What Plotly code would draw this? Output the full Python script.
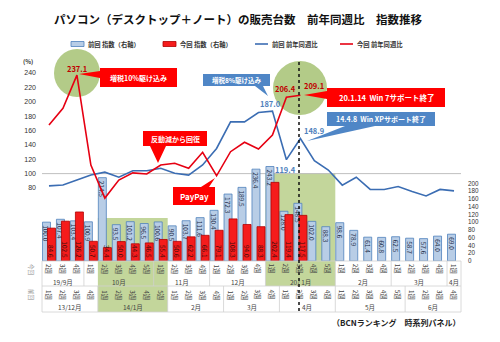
import plotly.graph_objects as go

FONT = "Noto Sans CJK JP"

# ---------------- data ----------------
weeks = list(range(30))
prev_index = [100.0, 107.4, 103.4, 100.9, 214.5, 93.5, 101.2, 96.5, 100.6, 90.5,
              103.7, 111.6, 130.4, 172.3, 189.5, 236.4, 243.2, 128.0, 148.5, 102.0,
              88.3, 98.6, 78.9, 61.4, 60.8, 62.5, 58.7, 57.6, 64.0, 69.0]
cur_index = [84.6, 102.5, 126.2, 50.7, 34.4, 50.0, 44.3, 46.5, 55.4, 50.6,
             62.2, 66.1, 79.1, 108.3, 94.0, 88.3, 202.4, 119.4, 117.5]
prev_yoy = [83.0, 84.2, 91.0, 98.0, 102.0, 95.0, 104.0, 104.0, 107.5, 100.5,
            98.0, 112.0, 135.0, 172.0, 172.0, 185.0, 187.0, 119.4, 148.9, 118.0,
            105.0, 84.0, 95.0, 78.0, 78.0, 82.0, 75.0, 69.0, 78.0, 76.0]
cur_yoy = [167.7, 191.0, 237.1, 112.0, 66.0, 91.0, 101.0, 99.5, 112.0, 114.5,
           107.5, 129.7, 97.0, 130.5, 143.6, 134.3, 153.7, 206.4, 209.1]

upper_weeks = ["2週", "3週", "4週", "1週", "2週", "3週", "4週", "5週", "1週", "2週",
               "3週", "4週", "1週", "2週", "3週", "4週", "1週", "2週", "3週", "4週",
               "5週", "1週", "2週", "3週", "4週", "1週", "2週", "3週", "4週", "1週"]
lower_weeks = ["1週", "2週", "3週", "4週", "1週", "2週", "3週", "4週", "5週", "1週",
               "2週", "3週", "4週", "1週", "2週", "3週", "4週", "1週", "2週", "3週",
               "4週", "1週", "2週", "3週", "4週", "5週", "1週", "2週", "3週", "4週"]
upper_months = [("19/9月", 0, 2), ("10月", 3, 7), ("11月", 8, 11), ("12月", 12, 15),
                ("20/ 1月", 16, 20), ("2月", 21, 24), ("3月", 25, 28), ("4月", 29, 29)]
lower_months = [("13/12月", 0, 3), ("14/1月", 4, 8), ("2月", 9, 12), ("3月", 13, 16),
                ("4月", 17, 20), ("5月", 21, 25), ("6月", 26, 29)]

# ---------------- geometry helpers ----------------
W, H = 500, 342
PL, PR, PT, PB = 42, 461, 58, 261
PW, PH = PR - PL, PB - PT


def px(x):
    return (x - PL) / PW


def py(y):
    return (PB - y) / PH


def cx(i):  # paper x of a category centre
    return (i + 0.5) / 30


def path(pts):
    return "M " + " L ".join(f"{px(a):.5f},{py(b):.5f}" for a, b in pts) + " Z"


RED = "#e60012"
BLUE_LINE = "#3b6db3"
BLUE_BOX = "#4f86c6"
GREEN_BOX = "#c3d69b"
GREEN_CIRCLE = "#b3cb88"

fig = go.Figure()

# bars (right axis)
fig.add_trace(go.Bar(
    x=weeks, y=prev_index, name="前回 指数（右軸）", yaxis="y",
    offset=-0.466, width=0.573,
    marker=dict(color="#b8cde6", line=dict(color="#4f81bd", width=0.8)),
    text=[f"{v:.1f}" for v in prev_index], textposition="inside",
    insidetextanchor="end", textangle=90,
    textfont=dict(size=6.5, color="#1f2d4a", family=FONT),
))
fig.add_trace(go.Bar(
    x=weeks[:len(cur_index)], y=cur_index, name="今回 指数（右軸）", yaxis="y",
    offset=-0.107, width=0.573,
    marker=dict(color="#f51c1c", line=dict(color="#b00000", width=0.8)),
    text=[f"{v:.1f}" for v in cur_index], textposition="inside",
    insidetextanchor="start", textangle=90,
    textfont=dict(size=6.5, color="#3a0a0a", family=FONT),
))
# lines (left axis)
fig.add_trace(go.Scatter(
    x=weeks, y=prev_yoy, name="前回 前年同週比", yaxis="y2", mode="lines",
    line=dict(color=BLUE_LINE, width=1.6),
))
fig.add_trace(go.Scatter(
    x=weeks[:len(cur_yoy)], y=cur_yoy, name="今回 前年同週比", yaxis="y2", mode="lines",
    line=dict(color=RED, width=1.6),
))

shapes = []
ann = []


def text(x, y, t, size=7, color="#333", bold=False, angle=0, xa="center", ya="middle",
         xref="paper", yref="paper", yshift=0, xshift=0):
    ann.append(dict(x=x, y=y, xref=xref, yref=yref, text=f"<b>{t}</b>" if bold else t,
                    showarrow=False, textangle=angle, xanchor=xa, yanchor=ya,
                    yshift=yshift, xshift=xshift,
                    font=dict(size=size, color=color, family=FONT)))


# green highlight areas (below)
shapes.append(dict(type="rect", xref="paper", yref="paper", layer="below",
                   x0=4 / 30, x1=9 / 30, y0=py(312), y1=py(218),
                   fillcolor=GREEN_BOX, line=dict(width=0)))
shapes.append(dict(type="rect", xref="paper", yref="paper", layer="below",
                   x0=16 / 30, x1=21 / 30, y0=py(286), y1=py(173),
                   fillcolor=GREEN_BOX, line=dict(width=0)))
shapes.append(dict(type="circle", xref="paper", yref="paper", layer="below",
                   x0=px(54), x1=px(100), y0=py(97), y1=py(49),
                   fillcolor=GREEN_CIRCLE, line=dict(width=0)))
shapes.append(dict(type="circle", xref="paper", yref="paper", layer="below",
                   x0=px(273), x1=px(327), y0=py(115), y1=py(61),
                   fillcolor=GREEN_CIRCLE, line=dict(width=0)))
# 100% reference line
shapes.append(dict(type="line", xref="paper", yref="y2", layer="below",
                   x0=0, x1=1, y0=100, y1=100, line=dict(color="#bfbfbf", width=1)))

# table lines
GRID = "#d0d0d0"
for yy in (261, 286, 312):
    shapes.append(dict(type="line", xref="paper", yref="paper", x0=0, x1=1,
                       y0=py(yy), y1=py(yy), line=dict(color=GRID, width=0.8)))
for b in [-0.5, 29.5]:
    shapes.append(dict(type="line", xref="paper", yref="paper", x0=cx(b), x1=cx(b),
                       y0=py(261), y1=py(312), line=dict(color=GRID, width=0.8)))
for _, a, b in upper_months[:-1]:
    shapes.append(dict(type="line", xref="paper", yref="paper", x0=cx(b + 0.5), x1=cx(b + 0.5),
                       y0=py(261), y1=py(286), line=dict(color=GRID, width=0.8)))
for _, a, b in lower_months[:-1]:
    shapes.append(dict(type="line", xref="paper", yref="paper", x0=cx(b + 0.5), x1=cx(b + 0.5),
                       y0=py(286), y1=py(312), line=dict(color=GRID, width=0.8)))

# week / month labels
for i in weeks:
    text(cx(i), py(269), upper_weeks[i], size=6.3, color="#444", angle=90)
    text(cx(i), py(295), lower_weeks[i], size=6.3, color="#444", angle=90)
for t, a, b in upper_months:
    text(cx((a + b) / 2), py(281.5), t, size=6.5, color="#444")
for t, a, b in lower_months:
    text(cx((a + b) / 2), py(307), t, size=6.5, color="#444")
text(px(31), py(270), "今回", size=5.5, color="#888", angle=90)
text(px(31), py(295), "前回", size=5.5, color="#888", angle=90)

# dotted marker line
shapes.append(dict(type="line", xref="paper", yref="paper", x0=px(299), x1=px(299),
                   y0=py(311), y1=py(60), line=dict(color="#111", width=1.5, dash="dot")))

# callouts
shapes.append(dict(type="path", xref="paper", yref="paper", fillcolor="#ff0000", line=dict(width=0),
                   path=path([(100, 68), (177, 68), (177, 87), (100, 87), (100, 78), (79, 74), (100, 71)])))
text(px(138.5), py(77.5), "増税10%駆け込み", size=7, color="white", bold=True)

shapes.append(dict(type="path", xref="paper", yref="paper", fillcolor="#ff0000", line=dict(width=0),
                   path=path([(143, 131), (207, 131), (207, 146), (166, 146), (158, 163), (150, 146), (143, 146)])))
text(px(175), py(138.5), "反動減から回復", size=7, color="white", bold=True)

shapes.append(dict(type="path", xref="paper", yref="paper", fillcolor="#ff0000", line=dict(width=0),
                   path=path([(173, 187), (201, 187), (215, 178), (209, 187), (215, 187), (215, 205), (173, 205)])))
text(px(194), py(196), "PayPay", size=8, color="white", bold=True)

shapes.append(dict(type="path", xref="paper", yref="paper", fillcolor=BLUE_BOX, line=dict(width=0),
                   path=path([(203, 74), (270, 74), (270, 86), (263, 86), (268, 96), (255, 86), (203, 86)])))
text(px(236.5), py(80), "増税8%駆け込み", size=6.5, color="white", bold=True)

shapes.append(dict(type="path", xref="paper", yref="paper", fillcolor="#ff0000", line=dict(width=0),
                   path=path([(327, 88), (445, 88), (445, 107), (327, 107), (327, 99), (304, 95), (327, 91)])))
text(px(386), py(97.5), "20.1.14  Win 7サポート終了", size=7.5, color="white", bold=True)

shapes.append(dict(type="path", xref="paper", yref="paper", fillcolor=BLUE_BOX, line=dict(width=0),
                   path=path([(327, 112), (435, 112), (435, 126), (375, 126), (307, 141), (345, 126), (327, 126)])))
text(px(381), py(119), "14.4.8  Win XPサポート終了", size=7, color="white", bold=True)

# line value labels
text(2, cur_yoy[2], f"{cur_yoy[2]:.1f}", size=7.5, color="#c00000", bold=True,
     xref="x", yref="y2", yshift=7)
text(17, cur_yoy[17], f"{cur_yoy[17]:.1f}", size=7.5, color="#c00000", bold=True,
     xref="x", yref="y2", yshift=9, xshift=-1)
text(18, cur_yoy[18], f"{cur_yoy[18]:.1f}", size=7.5, color="#c00000", bold=True,
     xref="x", yref="y2", yshift=10, xshift=14)
text(16, prev_yoy[16], f"{prev_yoy[16]:.1f}", size=7.5, color="#4f81bd", bold=True,
     xref="x", yref="y2", yshift=8, xshift=-2)
text(17, prev_yoy[17], f"{prev_yoy[17]:.1f}", size=7.5, color="#4f81bd", bold=True,
     xref="x", yref="y2", yshift=-10, xshift=-1)
text(18, prev_yoy[18], f"{prev_yoy[18]:.1f}", size=7.5, color="#4f81bd", bold=True,
     xref="x", yref="y2", yshift=8, xshift=14)

# title, legend, footer
text(px(238), py(19), "パソコン（デスクトップ＋ノート）の販売台数　前年同週比　指数推移",
     size=11.5, color="#111", bold=True)
leg = [("bar", "#b8cde6", "#4f81bd", 71, "前回 指数（右軸）"),
       ("bar", "#f51c1c", "#b00000", 163, "今回 指数（右軸）"),
       ("line", BLUE_LINE, None, 255, "前回 前年同週比"),
       ("line", RED, None, 340, "今回 前年同週比")]
for kind, c, lc, x0, t in leg:
    if kind == "bar":
        shapes.append(dict(type="rect", xref="paper", yref="paper", x0=px(x0), x1=px(x0 + 13),
                           y0=py(46.5), y1=py(41.5), fillcolor=c, line=dict(color=lc, width=0.8)))
    else:
        shapes.append(dict(type="line", xref="paper", yref="paper", x0=px(x0), x1=px(x0 + 13),
                           y0=py(44), y1=py(44), line=dict(color=c, width=1.6)))
    text(px(x0 + 15), py(44), t, size=6.3, color="#333", bold=True, xa="left")
text(px(28), py(62), "(%)", size=6, color="#333", bold=True)
text(px(462), py(322), "（BCNランキング　時系列パネル）", size=8, color="#222", bold=True, xa="right")

fig.update_layout(
    width=W, height=H,
    margin=dict(l=PL, r=W - PR, t=PT, b=H - PB, pad=0),
    paper_bgcolor="white", plot_bgcolor="rgba(0,0,0,0)",
    barmode="overlay", showlegend=False,
    font=dict(family=FONT, size=7, color="#333"),
    uniformtext=dict(minsize=6.5, mode="show"),
    xaxis=dict(range=[-0.5, 29.5], showticklabels=False, showgrid=False,
               zeroline=False, showline=False, ticks=""),
    yaxis=dict(side="right", range=[0, 522.5], tickvals=list(range(0, 201, 20)),
               showgrid=False, zeroline=False, showline=False, ticks="",
               tickfont=dict(size=6.3, color="#333", family="Liberation Sans"),
               ticklabelstandoff=6),
    yaxis2=dict(overlaying="y", side="left", range=[-21.57, 260.87],
                tickvals=list(range(80, 241, 20)), showgrid=False, zeroline=False,
                showline=False, ticks="", tickfont=dict(size=7, color="#333", family="Liberation Sans"),
                ticklabelstandoff=5),
    shapes=shapes, annotations=ann,
)

fig.write_html("out.html")
